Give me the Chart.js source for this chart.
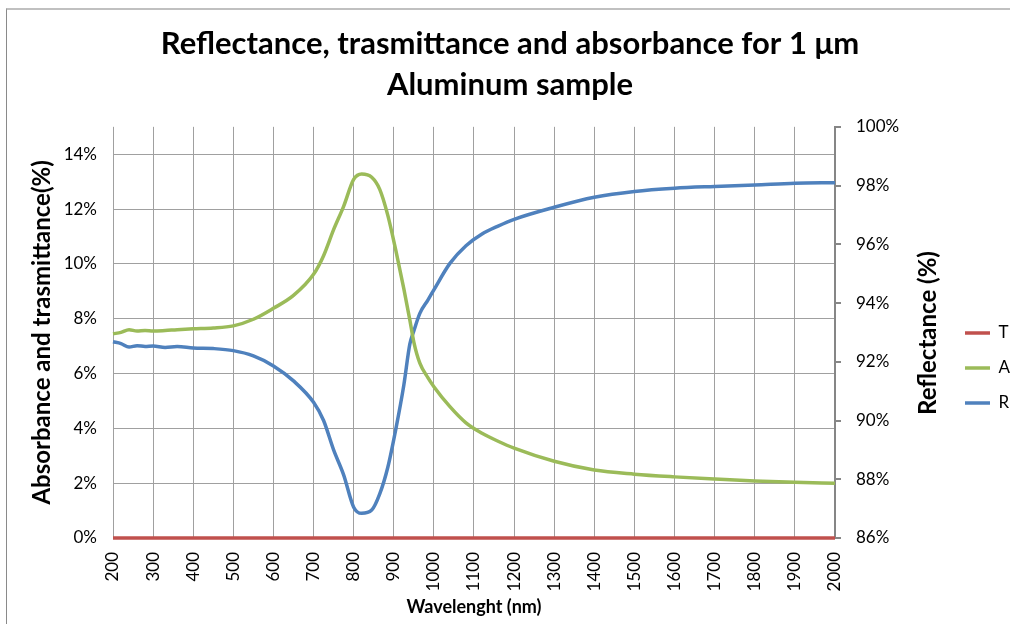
<!DOCTYPE html>
<html>
<head>
<meta charset="utf-8">
<script src="https://cdn.jsdelivr.net/npm/chart.js@4.4.1/dist/chart.umd.min.js"></script>
<style>
  html, body { margin: 0; padding: 0; background: #fff; }
  #wrap { position: relative; width: 1010px; height: 624px; overflow: hidden; }
  #frame {
    position: absolute; left: 6px; top: 8px; width: 1020px; height: 640px;
    border-top: 2px solid #c0c0c0; border-left: 1px solid #8a8a8a;
  }
  #chart { position: absolute; left: 0; top: 0; }
</style>
</head>
<body>
<div id="wrap">
  <div id="frame"></div>
  <canvas id="chart" width="1010" height="624"></canvas>
</div>
<script>
const wavelengths = [
  200, 220, 240, 260, 280, 300, 330, 360, 400, 450, 500, 550, 600, 650, 700,
  725, 750, 775, 800, 820, 845, 865, 885, 905, 925, 940, 950, 965, 985, 1000,
  1040, 1080, 1120, 1160, 1200, 1300, 1400, 1500, 1600, 1700, 1800, 1900, 2000,
];

// reflectance, right axis (%)
const reflectance = [
  92.68, 92.62, 92.5, 92.55, 92.52, 92.54, 92.49, 92.52, 92.47, 92.45, 92.38, 92.2, 91.86, 91.35, 90.62,
  90.0, 89.0, 88.15, 87.05, 86.84, 86.95, 87.5, 88.4, 89.7, 91.2, 92.6, 93.05, 93.65, 94.1, 94.45,
  95.35, 95.95, 96.35, 96.62, 96.85, 97.26, 97.6, 97.8, 97.91, 97.97, 98.02, 98.08, 98.1,
];

// absorbance, left axis (%)
const absorbance = [
  7.45, 7.5, 7.6, 7.55, 7.57, 7.55, 7.57, 7.6, 7.63, 7.66, 7.74, 7.98, 8.38, 8.85, 9.62,
  10.3, 11.25, 12.1, 13.08, 13.28, 13.16, 12.72, 11.78, 10.5, 9.1, 7.96, 7.15, 6.38, 5.85, 5.52,
  4.79, 4.2, 3.82, 3.53, 3.28, 2.8, 2.48, 2.33, 2.23, 2.15, 2.08, 2.03, 2.0,
];

// transmittance, left axis (%)
const transmittance = [
  0, 0, 0, 0, 0, 0, 0, 0, 0, 0, 0, 0, 0, 0, 0,
  0, 0, 0, 0, 0, 0, 0, 0, 0, 0, 0, 0, 0, 0, 0,
  0, 0, 0, 0, 0, 0, 0, 0, 0, 0, 0, 0, 0,
];

const FONT = "Lato, 'Open Sans', sans-serif";

function points(values) {
  return wavelengths.map((x, i) => ({ x, y: values[i] }));
}

function lineSet(label, values, color, axis) {
  return {
    label,
    data: points(values),
    borderColor: color,
    backgroundColor: color,
    borderWidth: 3.5,
    pointRadius: 0,
    pointStyle: "line",
    cubicInterpolationMode: "monotone",
    clip: 6,
    yAxisID: axis,
  };
}

// right axis title reads bottom to top, chart.js would turn it the other way
const rightTitle = {
  id: "rightTitle",
  afterDraw(chart) {
    const ctx = chart.ctx;
    ctx.save();
    ctx.translate(928, 333);
    ctx.rotate(-Math.PI / 2);
    ctx.font = "bold 24px " + FONT;
    ctx.fillStyle = "#000";
    ctx.textAlign = "center";
    ctx.textBaseline = "middle";
    ctx.fillText("Reflectance (%)", 0, 0);
    ctx.restore();
  },
};

new Chart(document.getElementById("chart"), {
  type: "line",
  data: {
    datasets: [
      lineSet("T", transmittance, "#c0504d", "yLeft"),
      lineSet("A", absorbance, "#9bbb59", "yLeft"),
      lineSet("R", reflectance, "#4f81bd", "yRight"),
    ],
  },
  options: {
    responsive: false,
    animation: false,
    layout: { padding: { left: 0, right: -10, top: 0, bottom: 0 } },
    plugins: {
      title: {
        display: true,
        text: ["Reflectance, trasmittance and absorbance for 1 \u03bcm", "Aluminum sample"],
        color: "#000",
        font: { family: FONT, size: 31, weight: "bold", lineHeight: 1.32 },
        padding: { top: 24, bottom: 21 },
      },
      legend: {
        position: "right",
        title: { display: true, text: " ", font: { size: 10 }, padding: { top: 100, bottom: 0 } },
        labels: {
          usePointStyle: true,
          pointStyleWidth: 25,
          padding: 18,
          color: "#000",
          font: { family: FONT, size: 17 },
        },
      },
      tooltip: { enabled: false },
    },
    scales: {
      x: {
        type: "linear",
        min: 200,
        max: 2000,
        afterFit(scale) { scale.height = 86; },
        ticks: {
          stepSize: 100,
          autoSkip: false,
          minRotation: 90,
          maxRotation: 90,
          padding: 14,
          color: "#000",
          font: { family: FONT, size: 17 },
          callback: (v) => String(v),
        },
        grid: { color: "#a0a0a0", lineWidth: 1, drawTicks: false },
        border: { display: false },
        title: {
          display: true,
          text: "Wavelenght (nm)",
          color: "#000",
          font: { family: FONT, size: 18, weight: "bold" },
          padding: { top: 0, bottom: 6 },
        },
      },
      yLeft: {
        position: "left",
        min: 0,
        max: 15,
        afterFit(scale) { scale.width = 113; },
        ticks: {
          stepSize: 2,
          includeBounds: false,
          padding: 16,
          color: "#000",
          font: { family: FONT, size: 17 },
          callback: (v) => v + "%",
        },
        grid: { color: "#a0a0a0", lineWidth: 1, drawTicks: false },
        border: { display: false },
        title: {
          display: true,
          text: "Absorbance and trasmittance(%)",
          color: "#000",
          font: { family: FONT, size: 24, weight: "bold" },
          padding: { top: 28, bottom: 0 },
        },
      },
      yRight: {
        position: "right",
        min: 86,
        max: 100,
        afterFit(scale) { scale.width = 112; },
        ticks: {
          stepSize: 2,
          padding: 15,
          color: "#000",
          font: { family: FONT, size: 17 },
          callback: (v) => v + "%",
        },
        grid: { drawOnChartArea: false, color: "#868686", tickLength: 6, lineWidth: 2 },
        border: { display: true, color: "#868686", width: 2 },
      },
    },
  },
  plugins: [rightTitle],
});
</script>
</body>
</html>
